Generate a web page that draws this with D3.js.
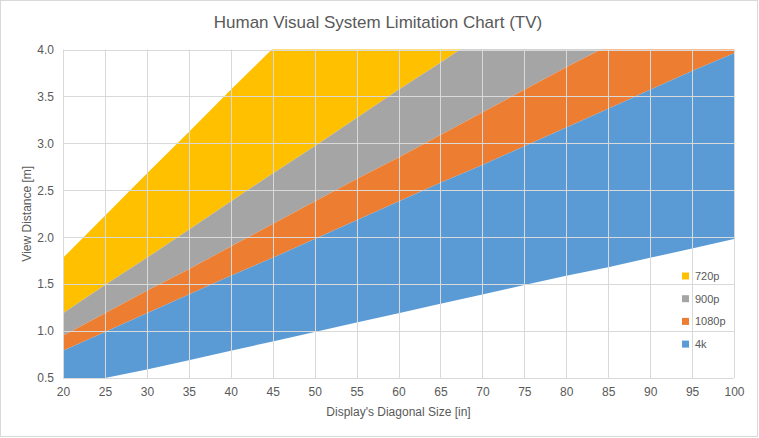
<!DOCTYPE html>
<html><head><meta charset="utf-8">
<script src="https://cdn.jsdelivr.net/npm/d3@7"></script>
<style>body{margin:0;background:#fff}svg{display:block}</style>
</head><body><svg id="c" width="759" height="438"></svg>
<script>
// Display diagonal sizes [in]
const sizes = [20,25,30,35,40,45,50,55,60,65,70,75,80,85,90,95,100];
// Boundary lines (view distance [m])
const limit4k    = [0.40,0.50,0.59,0.69,0.79,0.89,0.99,1.09,1.19,1.29,1.39,1.49,1.59,1.68,1.78,1.88,1.98];
const limit1080p = [0.79,0.99,1.19,1.39,1.59,1.78,1.98,2.18,2.38,2.58,2.77,2.97,3.17,3.37,3.57,3.77,3.96];
const limit900p  = [0.95,1.19,1.43,1.66,1.90,2.14,2.38,2.62,2.85,3.09,3.33,3.57,3.81,4.04,4.28,4.52,4.76];
const limit720p  = [1.19,1.49,1.78,2.08,2.38,2.68,2.97,3.27,3.57,3.86,4.16,4.46,4.76,5.05,5.35,5.65,5.95];
const limit480p  = [1.78,2.23,2.68,3.12,3.57,4.01,4.46,4.91,5.35,5.80,6.24,6.69,7.14,7.58,8.03,8.47,8.92];
const seriesNames = ["720p","900p","1080p","4k"];
const seriesColors = ["#FFC000","#A5A5A5","#ED7D31","#5B9BD5"];
const xTicks = [20,25,30,35,40,45,50,55,60,65,70,75,80,85,90,95,100];
const yTicks = [0.5,1.0,1.5,2.0,2.5,3.0,3.5,4.0];

const bands = [
  {name:"720p", lo:limit720p, hi:limit480p},
  {name:"900p", lo:limit900p, hi:limit720p},
  {name:"1080p", lo:limit1080p, hi:limit900p},
  {name:"4k", lo:limit4k, hi:limit1080p}
];

const svg = d3.select("#c");
const W=759,H=438;
const m={l:63,r:734,t:49.5,b:378};
const x = d3.scaleLinear().domain([20,100]).range([m.l,m.r]);
const y = d3.scaleLinear().domain([0.5,4.0]).range([m.b,m.t]);
const font = "'Liberation Sans', Arial, sans-serif";
const txt = "#595959";

svg.append("rect").attr("x",0.5).attr("y",0.5).attr("width",W-2).attr("height",H-2)
  .attr("fill","#fff").attr("stroke","#D9D9D9");

svg.append("defs").append("clipPath").attr("id","clip").append("rect")
  .attr("x",m.l).attr("y",m.t).attr("width",m.r-m.l).attr("height",m.b-m.t);

const g = svg.append("g").attr("clip-path","url(#clip)");
const color = d3.scaleOrdinal().domain(seriesNames).range(seriesColors);
bands.forEach(b=>{
  const area = d3.area().x((d,i)=>x(sizes[i])).y0((d,i)=>y(b.lo[i])).y1((d,i)=>y(b.hi[i]));
  g.append("path").datum(sizes).attr("d",area).attr("fill",color(b.name));
});

// gridlines (drawn over fills like the reference)
const grid = svg.append("g");
yTicks.forEach(t=>grid.append("line").attr("x1",m.l).attr("x2",m.r)
  .attr("y1",Math.round(y(t))+0.5).attr("y2",Math.round(y(t))+0.5).attr("stroke","#D9D9D9").attr("stroke-width",1));
xTicks.forEach(t=>grid.append("line").attr("y1",m.t).attr("y2",m.b)
  .attr("x1",Math.round(x(t))+0.5).attr("x2",Math.round(x(t))+0.5).attr("stroke","#D9D9D9").attr("stroke-width",1));

// axes
const xAxis = d3.axisBottom(x).tickValues(xTicks).tickSize(0).tickPadding(9).tickFormat(d3.format("d"));
const ya = d3.axisLeft(y).tickValues(yTicks).tickSize(0).tickPadding(9).tickFormat(d3.format(".1f"));
const gx = svg.append("g").attr("transform",`translate(0,${m.b})`).call(xAxis);
const gy = svg.append("g").attr("transform",`translate(${m.l},0)`).call(ya);
[gx,gy].forEach(a=>{
  a.select(".domain").remove();
  a.selectAll("text").attr("fill",txt).style("font-family",font).style("font-size","12px");
});

svg.append("text").attr("x",378).attr("y",28).attr("text-anchor","middle")
  .attr("fill",txt).style("font-family",font).style("font-size","17px")
  .text("Human Visual System Limitation Chart (TV)");
svg.append("text").attr("x",(m.l+m.r)/2).attr("y",416).attr("text-anchor","middle")
  .attr("fill",txt).style("font-family",font).style("font-size","12px")
  .text("Display's Diagonal Size [in]");
svg.append("text").attr("transform",`translate(31,${(m.t+m.b)/2}) rotate(-90)`).attr("text-anchor","middle")
  .attr("fill",txt).style("font-family",font).style("font-size","12px")
  .text("View Distance [m]");

const leg = svg.append("g");
seriesNames.forEach((n,i)=>{
  const yy = 276 + i*22.7;
  leg.append("rect").attr("x",682).attr("y",yy-3.5).attr("width",7).attr("height",7).attr("fill",color(n));
  leg.append("text").attr("x",695).attr("y",yy+4).attr("fill",txt)
    .style("font-family",font).style("font-size","11px").text(n);
});
</script></body></html>
